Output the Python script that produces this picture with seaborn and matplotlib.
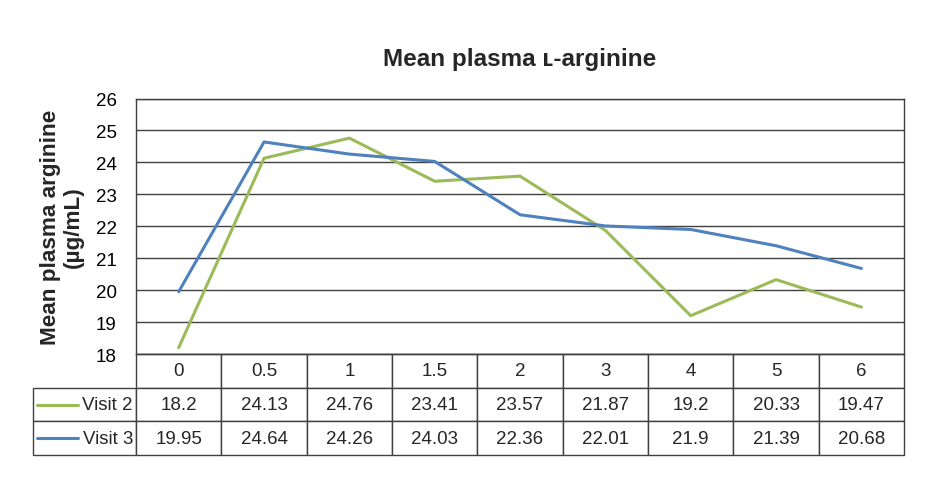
import pandas as pd
import matplotlib.pyplot as plt
import seaborn as sns

# Time points (h) and mean plasma arginine (ug/mL) for each visit
time_points = ['0', '0.5', '1', '1.5', '2', '3', '4', '5', '6']
visit2 = [18.2, 24.13, 24.76, 23.41, 23.57, 21.87, 19.2, 20.33, 19.47]
visit3 = [19.95, 24.64, 24.26, 24.03, 22.36, 22.01, 21.9, 21.39, 20.68]
series_names = ['Visit 2', 'Visit 3']
series_colors = ['#9BBB59', '#4F81BD']
y_ticks = [18, 19, 20, 21, 22, 23, 24, 25, 26]

sns.set_theme(style='white')
plt.rcParams['font.family'] = ['Liberation Sans', 'DejaVu Sans']

# long-form frame for seaborn
df = pd.DataFrame({
    'pos': list(range(len(time_points))) * 2,
    'value': visit2 + visit3,
    'visit': [series_names[0]] * len(visit2) + [series_names[1]] * len(visit3),
})

grid_col = '#404040'
fig = plt.figure(figsize=(9.44, 4.85), dpi=100)
ax = fig.add_axes([0.1441, 0.268, 0.8136, 0.5268])

sns.lineplot(data=df, x='pos', y='value', hue='visit', palette=series_colors,
             linewidth=2.2, legend=False, ax=ax)

ax.set_xlim(-0.5, len(time_points) - 0.5)
ax.set_ylim(y_ticks[0], y_ticks[-1])
ax.set_yticks(y_ticks)
ax.set_xticks([])
ax.set_xlabel('')
ax.set_ylabel('Mean plasma arginine\n(µg/mL)', fontsize=16.2, fontweight='bold',
              linespacing=1.15)
ax.yaxis.set_label_coords(-0.0677, 0.5)
ax.tick_params(axis='y', length=0, pad=14, labelsize=13.5, colors='black')
ax.yaxis.grid(True, color=grid_col, linewidth=1)
for sp in ax.spines.values():
    sp.set_color(grid_col)
    sp.set_linewidth(1)

ax.set_title('Mean plasma ʟ-arginine', fontsize=17.5, fontweight='bold', pad=24)

# data table under the plot (first column holds the legend)
cell_text = [[''] + time_points,
             [series_names[0]] + [f'{v:g}' for v in visit2],
             [series_names[1]] + [f'{v:g}' for v in visit3]]
label_w = 103 / 871
data_w = (1 - label_w) / len(time_points)
tbl_x, tbl_w = -0.1341, 1.1341
tbl_h = 0.3953
tbl = ax.table(cellText=cell_text, colWidths=[label_w] + [data_w] * len(time_points),
               cellLoc='center', bbox=[tbl_x, -tbl_h, tbl_w, tbl_h])
tbl.auto_set_font_size(False)
tbl.set_fontsize(13.5)
for (r, c), cell in tbl.get_celld().items():
    cell.set_edgecolor(grid_col)
    cell.set_linewidth(1)
    if c == 0:
        cell._loc = 'right'
        cell.get_text().set_ha('right')
        cell.PAD = 0.03
tbl[0, 0].visible_edges = 'open'

# legend keys inside the label cells
row_h = tbl_h / 3
for i, col in enumerate(series_colors):
    yc = -(i + 1.5) * row_h
    ax.plot([-0.1289, -0.0755], [yc, yc], color=col, lw=2.2,
            transform=ax.transAxes, clip_on=False)

fig.savefig('out.png', dpi=100)
